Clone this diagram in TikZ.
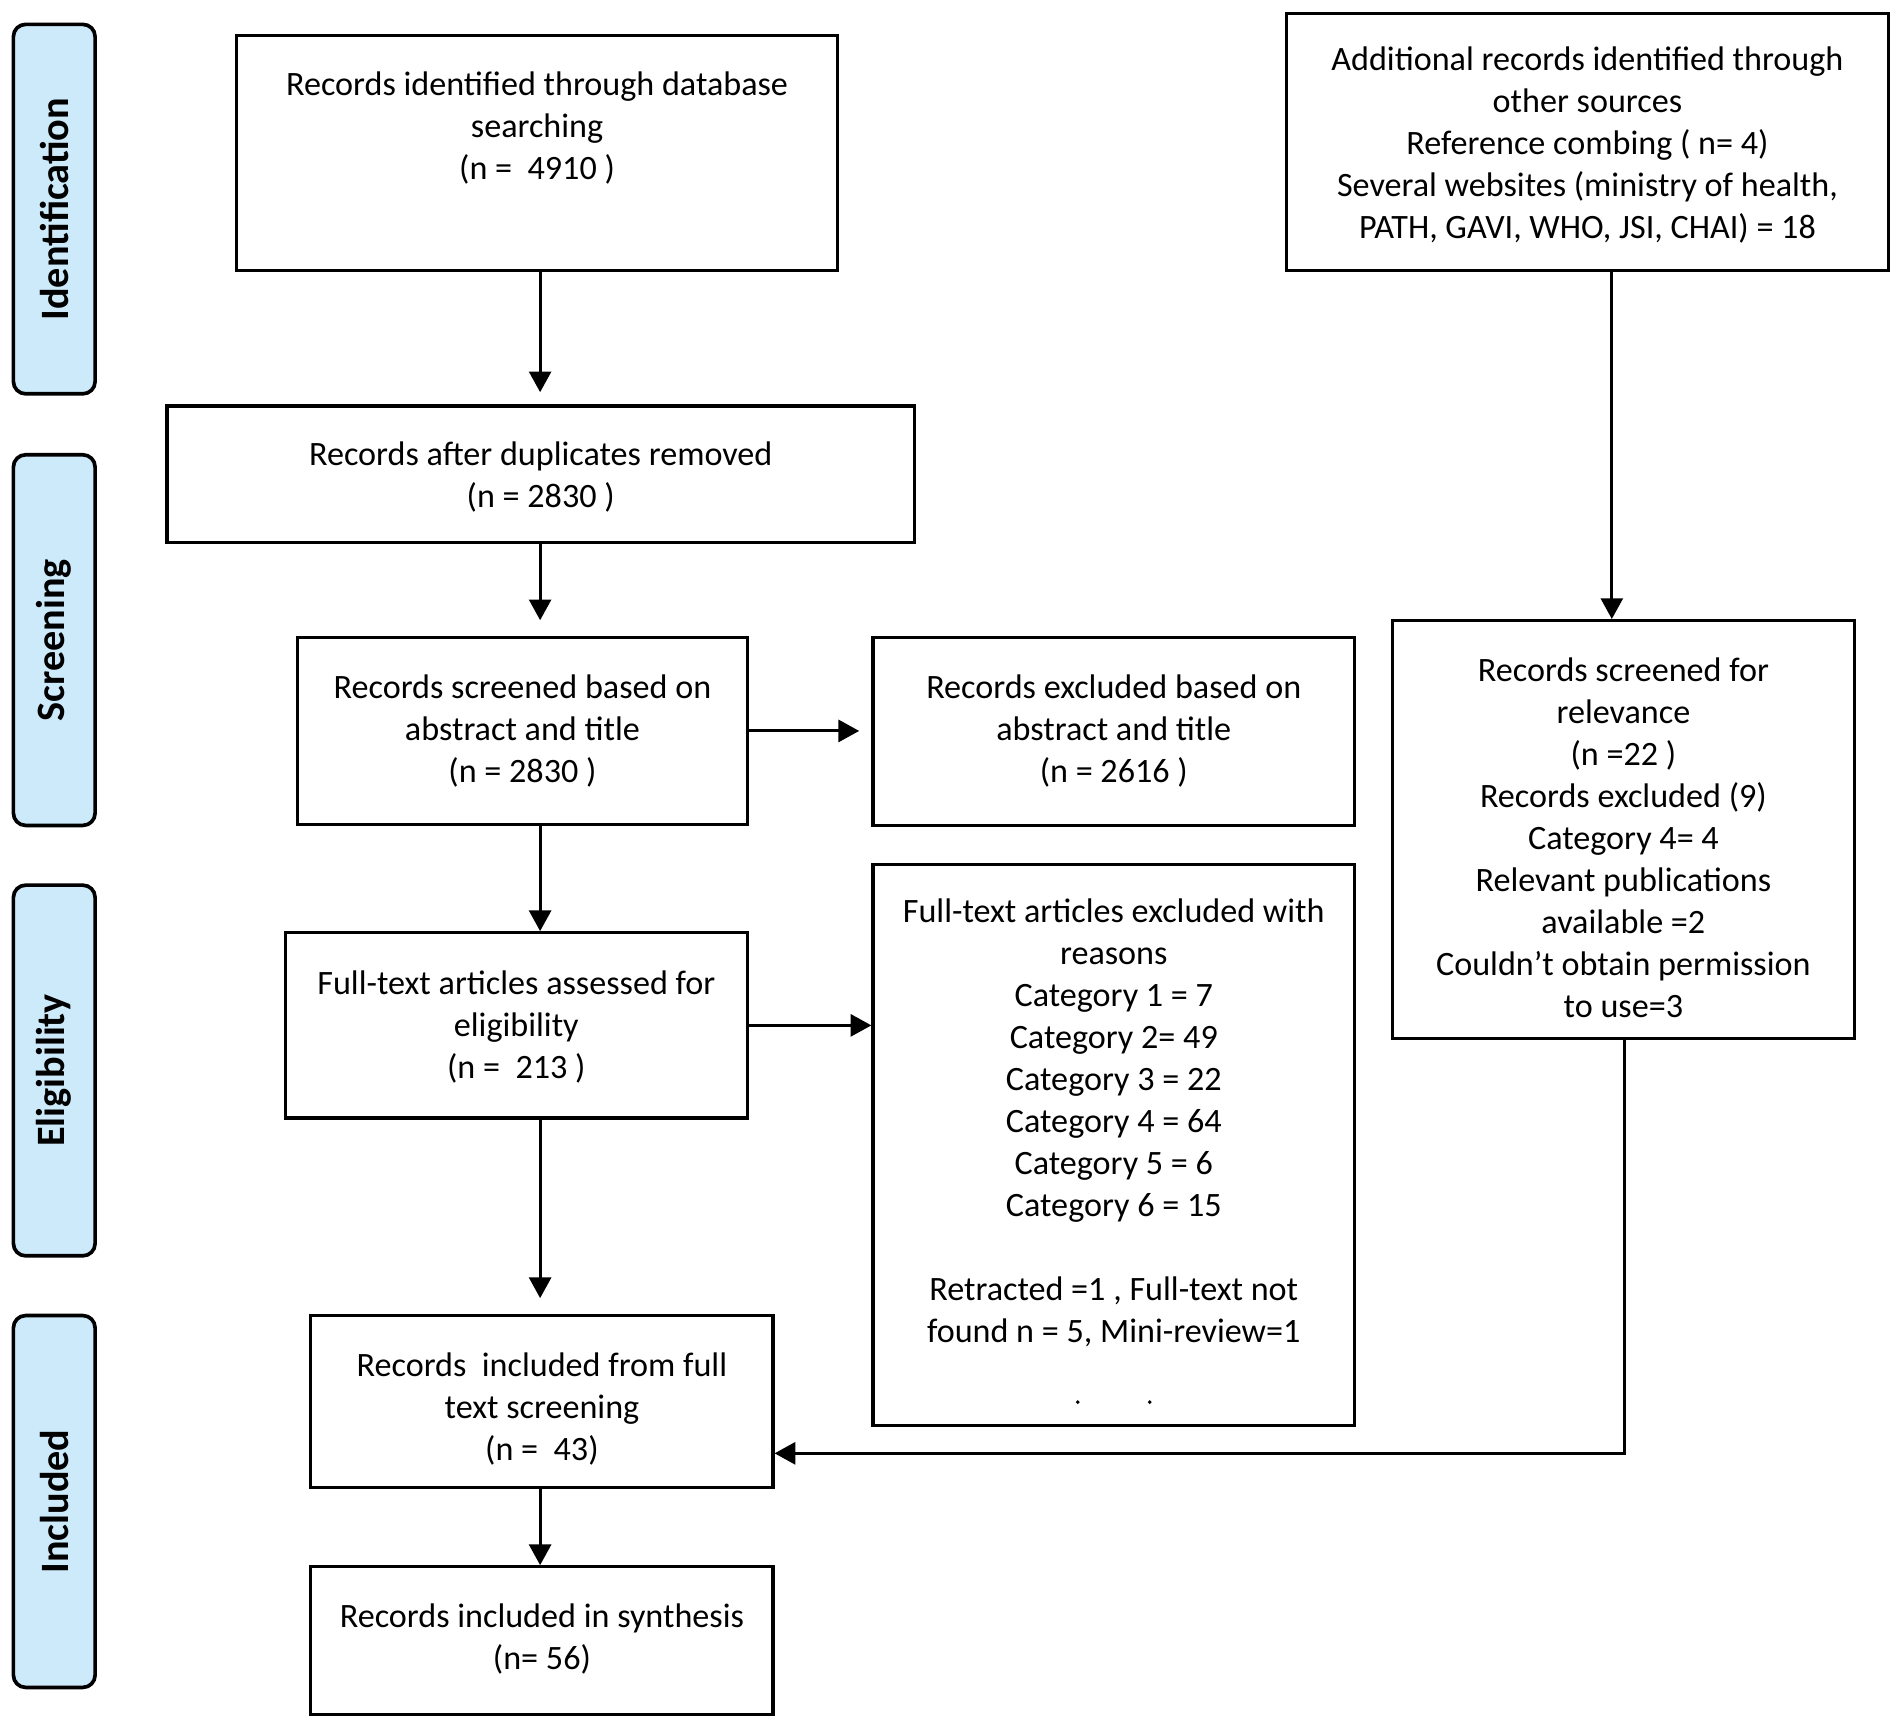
\documentclass[tikz,border=0pt]{standalone}
\usepackage{fontspec}
\setmainfont{Carlito}
\usetikzlibrary{arrows.meta}
\definecolor{stageblue}{RGB}{204,234,250}
\begin{document}
\begin{tikzpicture}[x=0.5pt,y=-0.5pt,
  bx/.style={draw, line width=1.3pt, rectangle, inner sep=0pt},
  txt/.style={align=center, inner sep=0pt, font=\fontsize{14}{17.2}\selectfont},
  stage/.style={draw, line width=1.5pt, rounded corners=5pt, fill=stageblue, rotate=90,
    minimum height=33.5pt, inner sep=0pt, font=\fontsize{16.5}{20}\selectfont\bfseries},
  arr/.style={line width=1.25pt, -{Triangle[length=8.5pt,width=9pt]}}]
\useasboundingbox (0,0) rectangle (1560,1414);

% stage labels
\node[stage, minimum width=151.5pt] (sid) at (44.5,171.5) {Identification};
\node[stage, minimum width=152pt] (ssc) at (44.5,525) {Screening};
\node[stage, minimum width=152pt] (sel) at (44.5,878) {Eligibility};
\node[stage, minimum width=152.5pt] (sin) at (44.5,1231.5) {Included};

% boxes
\node[bx, minimum width=246.5pt, minimum height=96.5pt] (n1) at (440.5,125.5) {};
\node[bx, minimum width=247pt, minimum height=105.5pt] (n2) at (1302,116.5) {};
\node[bx, minimum width=306.5pt, minimum height=56pt] (n3) at (443.5,389) {};
\node[bx, minimum width=184.5pt, minimum height=76.5pt] (n4) at (428.5,599.5) {};
\node[bx, minimum width=197.5pt, minimum height=77pt] (n5) at (913.5,600) {};
\node[bx, minimum width=189.5pt, minimum height=171.5pt] (n6) at (1331.5,680.5) {};
\node[bx, minimum width=189.5pt, minimum height=76pt] (n7) at (423.5,841) {};
\node[bx, minimum width=197.5pt, minimum height=230pt] (n8) at (913.5,939) {};
\node[bx, minimum width=189.5pt, minimum height=70.5pt] (n9) at (444.5,1149.5) {};
\node[bx, minimum width=189.5pt, minimum height=60.5pt] (n10) at (444.5,1345.5) {};

% texts
\node[txt] (t1) at (440.5,105) {Records identified through database\\searching\\(n =\ \ 4910 )};
\node[txt] (t2) at (1302,119) {Additional records identified through\\other sources\\Reference combing ( n= 4)\\Several websites (ministry of health,\\PATH, GAVI, WHO, JSI, CHAI) = 18};
\node[txt] (t3) at (443.5,391.5) {Records after duplicates removed\\(n = 2830 )};
\node[txt] (t4) at (428.5,599.5) {Records screened based on\\abstract and title\\(n = 2830 )};
\node[txt] (t5) at (913.5,599.5) {Records excluded based on\\abstract and title\\(n = 2616 )};
\node[txt] (t6) at (1331.5,687) {Records screened for\\relevance\\(n =22 )\\Records excluded (9)\\Category 4= 4\\Relevant publications\\available =2\\Couldn’t obtain permission\\to use=3};
\node[txt] (t7) at (423.5,842) {Full-text articles assessed for\\eligibility\\(n =\ \ 213 )};
\node[txt] (t8) at (913.5,921) {Full-text articles excluded with\\reasons\\Category 1 = 7\\Category 2= 49\\Category 3 = 22\\Category 4 = 64\\Category 5 = 6\\Category 6 = 15\\[17.2pt]Retracted =1 , Full-text not\\found n = 5, Mini-review=1};
\node[txt] (t9) at (444.5,1156) {Records\ \ included from full\\text screening\\(n =\ \ 43)};
\node[txt] (t10) at (444.5,1344.5) {Records included in synthesis\\(n= 56)};

% stray dots in the exclusion box
\fill (884,1150) circle (0.8pt);
\fill (943,1150) circle (0.8pt);

% connectors
\coordinate (ax) at (443,0);
\coordinate (bx) at (1322,0);
\coordinate (jn) at (1332,1192);
\draw[arr, shorten >=5pt] (n1.south -| ax) -- (n3.north -| ax);
\draw[arr, shorten >=6.5pt] (n3.south -| ax) -- (n4.north -| ax);
\draw[arr] (n4.south -| ax) -- (n7.north -| ax);
\draw[arr, shorten >=6.5pt] (n7.south -| ax) -- (n9.north -| ax);
\draw[arr] (n9.south -| ax) -- (n10.north -| ax);
\draw[arr, shorten >=5pt] (n4.east) -- (n4.east -| n5.west);
\draw[arr] (n7.east) -- (n7.east -| n8.west);
\draw[arr] (n2.south -| bx) -- (n6.north -| bx);
\draw[arr] (n6.south -| jn) -- (jn) -- (jn -| n9.east);
\end{tikzpicture}
\end{document}
